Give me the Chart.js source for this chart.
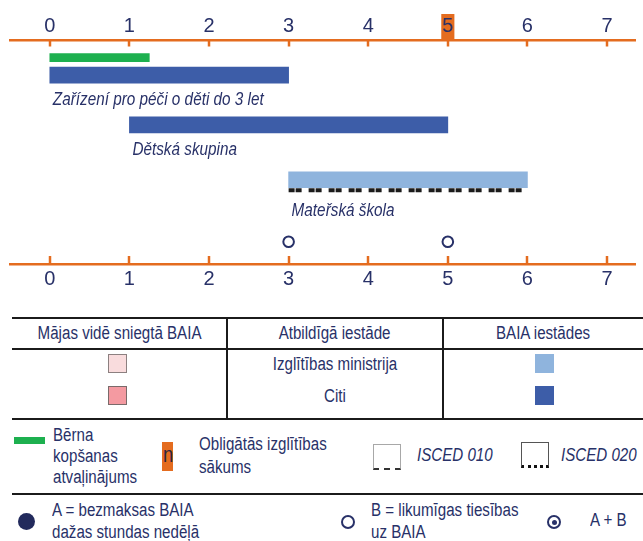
<!DOCTYPE html>
<html>
<head>
<meta charset="utf-8">
<script src="https://cdn.jsdelivr.net/npm/chart.js@4.4.1/dist/chart.umd.min.js"></script>
<style>
  body { margin: 0; background: #fff; }
  #page { position: relative; width: 643px; height: 541px; overflow: hidden;
          font-family: 'Liberation Sans', Arial, sans-serif;
          font-size: 18px; color: #283168; }
  #page div { position: absolute; }
  .rule { background: #1b1b1b; }
  .t { line-height: 21px; white-space: nowrap; }
  .c { text-align: center; }
  /* narrow the running text a little */
  .nw { display: inline-block; transform: scaleX(0.84); transform-origin: 0 50%; }
  .c .nw { transform-origin: 50% 50%; }
  .sq { width: 19px; height: 19px; box-sizing: border-box; }
  .ring { border: 2px solid #283168; border-radius: 50%; box-sizing: border-box; background: #fff; }
</style>
</head>
<body>
<div id="page">
  <canvas id="ages" width="643" height="300"></canvas>

  <!-- table: home-based / responsible body / centres -->
  <div class="rule" style="left:12px;top:317px;width:631px;height:2px"></div>
  <div class="rule" style="left:12px;top:348px;width:631px;height:2px"></div>
  <div class="rule" style="left:12px;top:418px;width:631px;height:2px"></div>
  <div class="rule" style="left:226px;top:317px;width:2px;height:102px"></div>
  <div class="rule" style="left:442px;top:317px;width:2px;height:102px"></div>
  <div class="t c" style="left:12px;top:323px;width:215px"><span class="nw">Mājas vidē sniegtā BAIA</span></div>
  <div class="t c" style="left:227px;top:323px;width:216px"><span class="nw">Atbildīgā iestāde</span></div>
  <div class="t c" style="left:443px;top:323px;width:200px"><span class="nw">BAIA iestādes</span></div>

  <div class="sq" style="left:108px;top:354px;background:#f9dcdd;border:1px solid #8c8080"></div>
  <div class="t c" style="left:227px;top:354px;width:216px"><span class="nw">Izglītības ministrija</span></div>
  <div class="sq" style="left:535px;top:354px;background:#8fb4dd"></div>

  <div class="sq" style="left:108px;top:386px;background:#f49aa1;border:1px solid #7a6a6a"></div>
  <div class="t c" style="left:227px;top:386px;width:216px"><span class="nw">Citi</span></div>
  <div class="sq" style="left:535px;top:386px;background:#3d5da8"></div>

  <!-- leave, compulsory start, ISCED -->
  <div style="left:14px;top:437px;width:31px;height:7px;background:#1db04f"></div>
  <div class="t" style="left:53px;top:425px"><span class="nw">Bērna<br>kopšanas<br>atvaļinājums</span></div>
  <div style="left:162px;top:442px;width:11px;height:29px;background:#e46c1f;color:#2a2440;font-size:22px;line-height:26px;text-align:center"><span class="nw" style="transform-origin:50% 50%">n</span></div>
  <div class="t" style="left:199px;top:433px;line-height:22.5px"><span class="nw">Obligātās izglītības<br>sākums</span></div>

  <div style="left:373px;top:444px;width:28px;height:26px;box-sizing:border-box;border:1px solid #a8a8a8;border-bottom:2px dashed #333"></div>
  <div class="t" style="left:417px;top:445px;font-style:italic"><span class="nw">ISCED 010</span></div>
  <div style="left:521px;top:442px;width:28px;height:26px;box-sizing:border-box;border:1px solid #555;border-bottom:3px dotted #111"></div>
  <div class="t" style="left:561px;top:445px;font-style:italic"><span class="nw">ISCED 020</span></div>

  <div class="rule" style="left:12px;top:493px;width:631px;height:2px"></div>

  <!-- entitlement symbols -->
  <div style="left:18px;top:513px;width:17px;height:17px;border-radius:50%;background:#222a5c"></div>
  <div class="t" style="left:52px;top:499px;line-height:22px"><span class="nw">A = bezmaksas BAIA<br>dažas stundas nedēļā</span></div>
  <div class="ring" style="left:341px;top:515px;width:14px;height:14px"></div>
  <div class="t" style="left:371px;top:499px;line-height:22px"><span class="nw">B = likumīgas tiesības<br>uz BAIA</span></div>
  <div class="ring" style="left:547px;top:515px;width:14px;height:14px"></div>
  <div style="left:551.5px;top:519.5px;width:5px;height:5px;border-radius:50%;background:#283168"></div>
  <div class="t" style="left:590px;top:510px"><span class="nw">A + B</span></div>
</div>

<script>
// age axis and provision data
const ages = [0, 1, 2, 3, 4, 5, 6, 7];
const programmes = ['Zařízení pro péči o děti do 3 let', 'Dětská skupina', 'Mateřská škola'];
const programmeFrom = [0, 1, 3];
const programmeTo = [3, 5, 6];
const programmeAuthority = ['Citi', 'Citi', 'Izglītības ministrija'];
const programmeIsced = ['', '', '020'];
const leaveFrom = [0];
const leaveTo = [1.25];
const compulsoryAge = [5];
const entitlementB = [3];      // legal entitlement only
const entitlementAB = [5];     // free hours + entitlement

const ORANGE = '#e46c1f';
const NAVY = '#283168';
const FONT = "'Liberation Sans', Arial, sans-serif";
const NARROW = 0.85;
const AGE_MIN = -0.5, AGE_MAX = 7.36;
const authorityColour = { 'Izglītības ministrija': '#8fb4dd', 'Citi': '#3d5da8' };

// the leave bar shares the first row, so that row's programme sits a bit lower;
// rows carrying an ISCED underline are lifted so bar + line stay centred
const LEAVE_SHIFT = 0.15;
const ISCED_LIFT = 0.06;
const symbolRow = programmes.length;

const programmeBars = programmes.map((p, i) => ({
  x: [programmeFrom[i], programmeTo[i]],
  y: i + (i === 0 ? LEAVE_SHIFT : 0) - (programmeIsced[i] ? ISCED_LIFT : 0)
}));
const leaveBars = leaveFrom.map((f, i) => ({ x: [f, leaveTo[i]], y: -LEAVE_SHIFT }));

// tick marks point into the plot, labels under bars, ISCED underline
const decorations = {
  id: 'decorations',
  afterDatasetsDraw(chart) {
    const { ctx, chartArea } = chart;
    ctx.save();

    ctx.strokeStyle = ORANGE;
    ctx.lineWidth = 2.5;
    [['x', chartArea.top, 6.5], ['x2', chartArea.bottom, -8]].forEach(([id, y0, len]) => {
      const s = chart.scales[id];
      s.ticks.forEach(t => {
        const px = Math.round(s.getPixelForValue(t.value));
        ctx.beginPath();
        ctx.moveTo(px, y0);
        ctx.lineTo(px, y0 + len);
        ctx.stroke();
      });
    });

    const meta = chart.getDatasetMeta(0);
    ctx.font = 'italic 18px ' + FONT;
    ctx.fillStyle = NAVY;
    ctx.textBaseline = 'middle';
    meta.data.forEach((bar, i) => {
      const { x, y, base, height } = bar.getProps(['x', 'y', 'base', 'height'], true);
      const left = Math.min(x, base), right = Math.max(x, base);
      const bottom = y + height / 2;
      let below = 17;
      if (programmeIsced[i] === '020') {
        ctx.save();
        ctx.strokeStyle = '#1b1b1b';
        ctx.lineWidth = 4;
        ctx.setLineDash([6, 1, 6, 7]);
        ctx.beginPath();
        ctx.moveTo(left, bottom + 2.5);
        ctx.lineTo(right, bottom + 2.5);
        ctx.stroke();
        ctx.restore();
        below = 23;
      }
      ctx.save();
      ctx.translate(left + 3, bottom + below);
      ctx.scale(NARROW, 1);
      ctx.fillText(programmes[i], 0, 0);
      ctx.restore();
    });
    ctx.restore();
  }
};

const ageAxis = (position, padding) => ({
  type: 'linear',
  position,
  min: AGE_MIN,
  max: AGE_MAX,
  bounds: 'data',
  stacked: false,
  afterBuildTicks: s => {
    s.ticks = ages.map(v => ({ value: v }));
    s.min = AGE_MIN;
    s.max = AGE_MAX;
  },
  afterFit: s => { s.height = position === 'top' ? 40 : 36; },
  grid: { display: false, drawTicks: false },
  border: { display: true, color: ORANGE, width: 2.5 },
  ticks: {
    padding,
    color: NAVY,
    font: { size: 20, family: FONT },
    showLabelBackdrop: ctx => position === 'top' && compulsoryAge.includes(ctx.tick.value),
    backdropColor: ORANGE,
    backdropPadding: { left: 1, right: 1, top: 0, bottom: 1 }
  }
});

new Chart(document.getElementById('ages'), {
  type: 'bar',
  data: {
    datasets: [
      {
        label: 'Programmes',
        data: programmeBars,
        backgroundColor: programmeAuthority.map(a => authorityColour[a]),
        grouped: false,
        barThickness: 16,
        borderWidth: 0
      },
      {
        label: 'Bērna kopšanas atvaļinājums',
        data: leaveBars,
        backgroundColor: '#1db04f',
        grouped: false,
        barThickness: 8,
        borderWidth: 0
      },
      {
        type: 'scatter',
        label: 'B',
        data: entitlementB.concat(entitlementAB).map(a => ({ x: a, y: symbolRow })),
        pointRadius: 5.3,
        pointHoverRadius: 5.3,
        borderWidth: 2,
        borderColor: NAVY,
        backgroundColor: '#fff'
      },
      {
        type: 'scatter',
        label: 'A',
        data: entitlementAB.map(a => ({ x: a, y: symbolRow })),
        pointRadius: 2.5,
        pointHoverRadius: 2.5,
        borderWidth: 0,
        backgroundColor: NAVY
      }
    ]
  },
  options: {
    indexAxis: 'y',
    responsive: false,
    animation: false,
    devicePixelRatio: 1,
    layout: { padding: { left: 10, right: 0, top: 0, bottom: 0 } },
    scales: {
      x: ageAxis('top', 2),
      x2: ageAxis('bottom', 3),
      y: { type: 'linear', display: false, offset: false, grid: { offset: false },
           reverse: true, min: -0.45, max: 3.38 }
    },
    plugins: { legend: { display: false }, tooltip: { enabled: false } }
  },
  plugins: [decorations]
});
</script>
</body>
</html>
